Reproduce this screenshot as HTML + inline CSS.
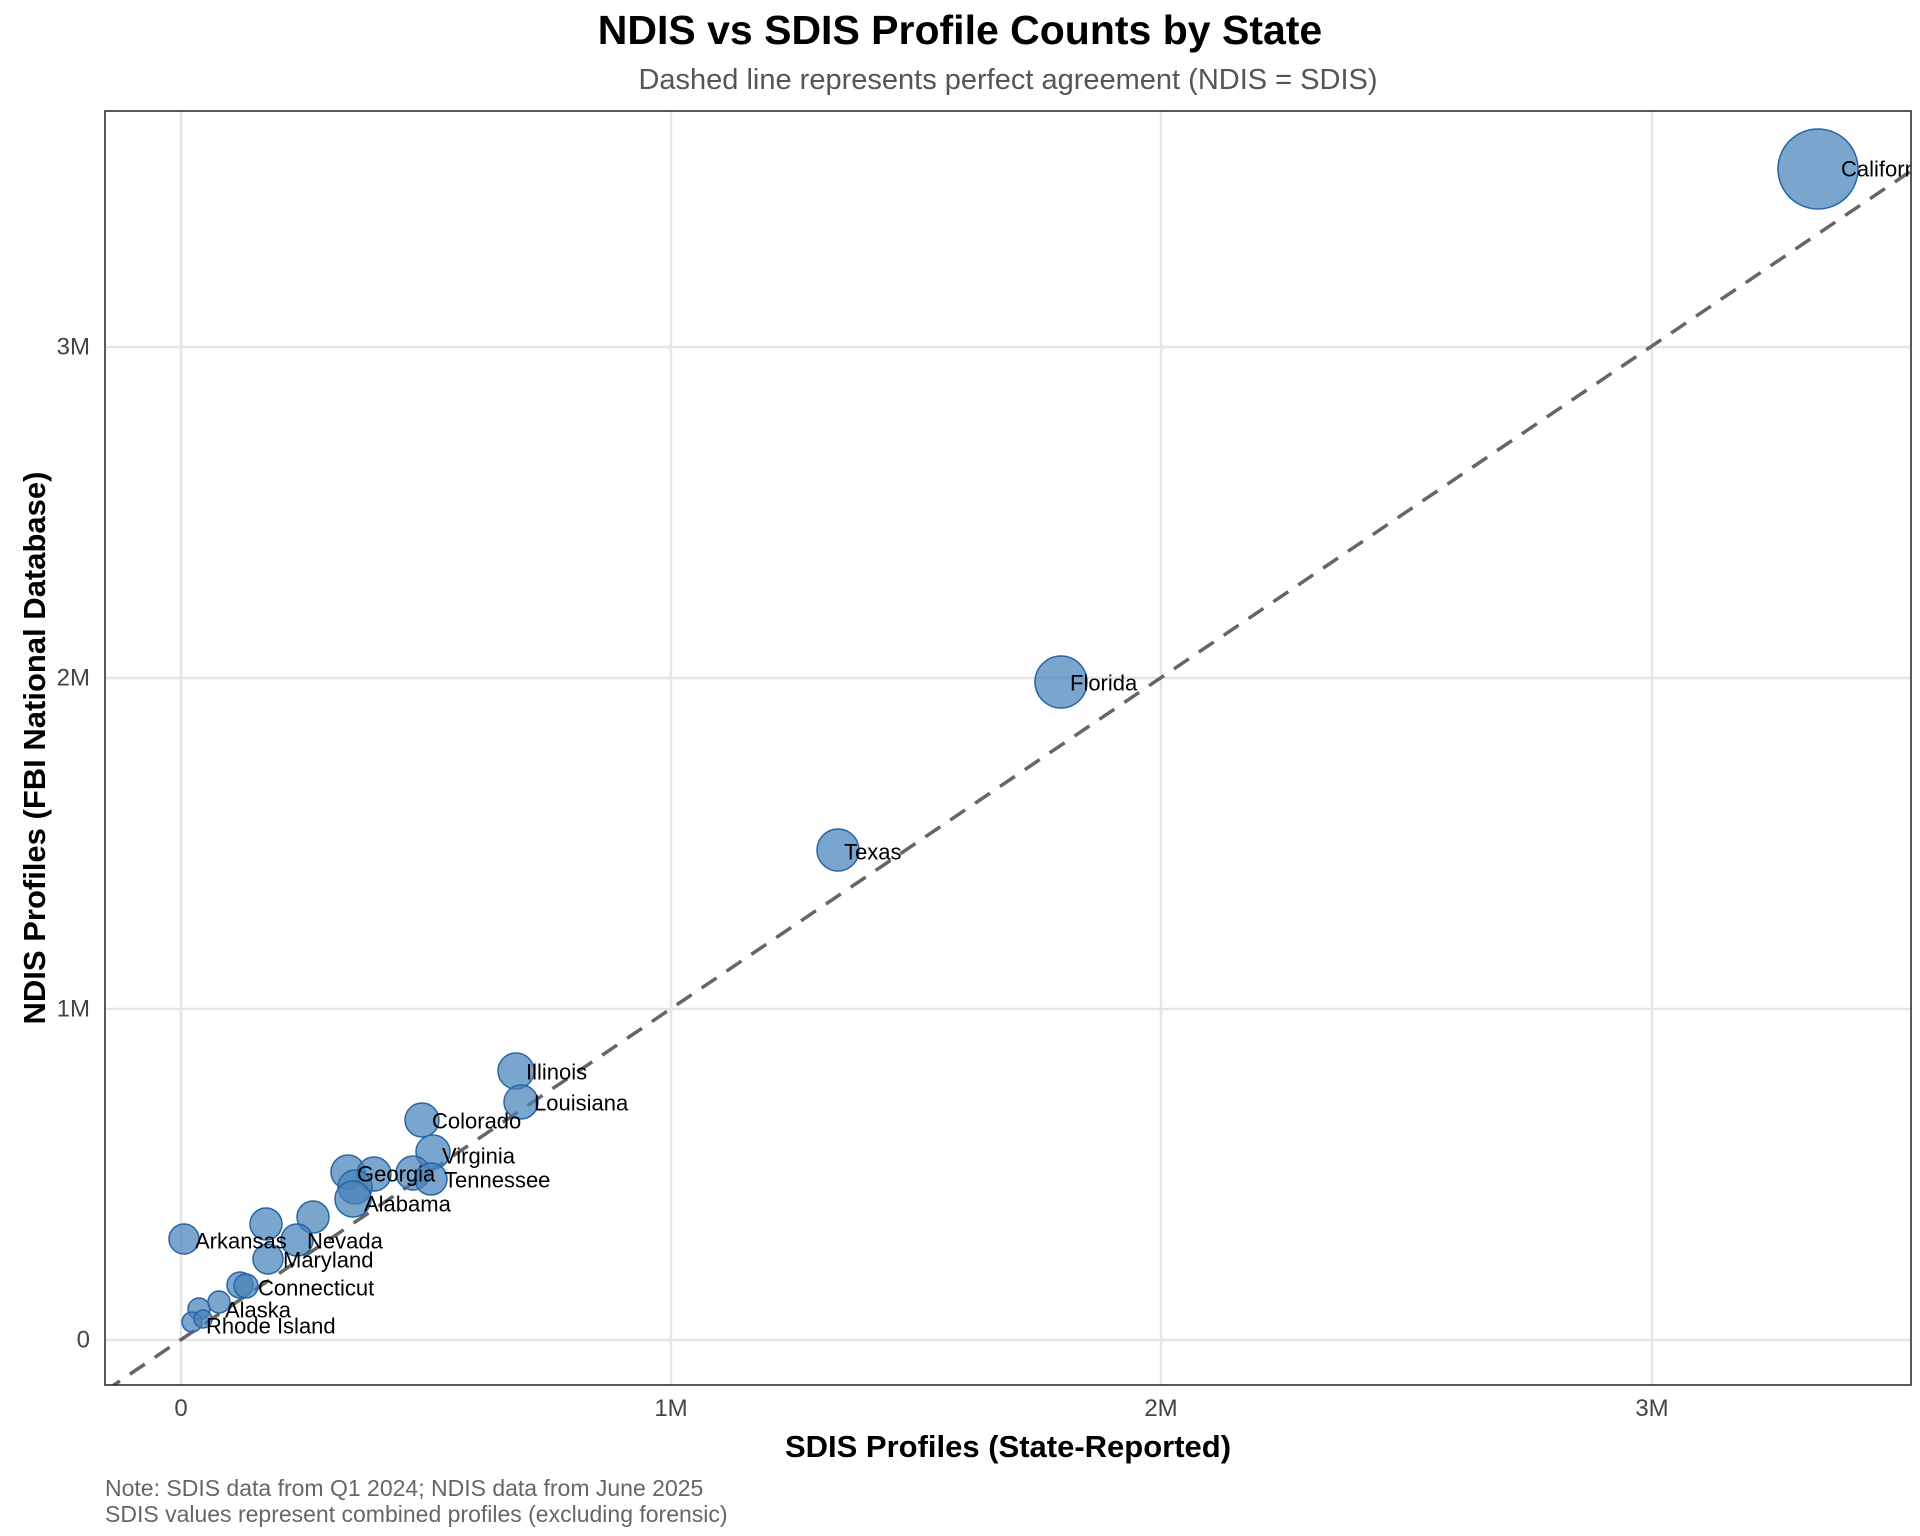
<!DOCTYPE html>
<html><head><style>body{margin:0;background:#fff}svg{display:block}text{font-family:"Liberation Sans",Arial,sans-serif}</style></head><body>
<svg width="1920" height="1536" viewBox="0 0 1920 1536" xmlns="http://www.w3.org/2000/svg">
<defs><clipPath id="c"><rect x="105" y="111" width="1806" height="1274"/></clipPath></defs>
<text x="960" y="44" text-anchor="middle" font-size="41" font-weight="bold">NDIS vs SDIS Profile Counts by State</text>
<text x="1008" y="89" text-anchor="middle" font-size="29" fill="#555">Dashed line represents perfect agreement (NDIS = SDIS)</text>
<g stroke="#e6e6e6" stroke-width="2.5">
<line x1="181" y1="111" x2="181" y2="1385"/><line x1="671" y1="111" x2="671" y2="1385"/><line x1="1161" y1="111" x2="1161" y2="1385"/><line x1="1652" y1="111" x2="1652" y2="1385"/>
<line x1="105" y1="1340" x2="1911" y2="1340"/><line x1="105" y1="1009" x2="1911" y2="1009"/><line x1="105" y1="678" x2="1911" y2="678"/><line x1="105" y1="347" x2="1911" y2="347"/>
</g>
<g clip-path="url(#c)">
<line x1="105" y1="1391" x2="1911" y2="171" stroke="#666" stroke-width="3.5" stroke-dasharray="18,12"/>
<g fill="rgb(70,130,185)" fill-opacity="0.72" stroke="rgb(40,100,165)" stroke-width="1.5">
<circle cx="1818" cy="169" r="40"/>
<circle cx="1061" cy="682" r="26"/>
<circle cx="838" cy="850" r="21"/>
<circle cx="516" cy="1071" r="18"/>
<circle cx="521" cy="1102" r="17"/>
<circle cx="422" cy="1120" r="17"/>
<circle cx="433" cy="1152" r="17"/>
<circle cx="413" cy="1173" r="17"/>
<circle cx="431" cy="1179" r="16"/>
<circle cx="348" cy="1172" r="17"/>
<circle cx="374" cy="1174" r="17"/>
<circle cx="355" cy="1187" r="17"/>
<circle cx="353" cy="1199" r="18"/>
<circle cx="266" cy="1224" r="16"/>
<circle cx="313" cy="1217" r="16"/>
<circle cx="184" cy="1239" r="15"/>
<circle cx="297" cy="1240" r="16"/>
<circle cx="268" cy="1259" r="15"/>
<circle cx="240" cy="1285" r="13"/>
<circle cx="246" cy="1286" r="12"/>
<circle cx="199" cy="1309" r="11"/>
<circle cx="219" cy="1302" r="11"/>
<circle cx="192" cy="1322" r="10"/>
<circle cx="203" cy="1319" r="9"/>
</g>
<g font-size="22" fill="#000" dominant-baseline="central">
<text x="1841" y="169">California</text>
<text x="1070" y="683">Florida</text>
<text x="844" y="852">Texas</text>
<text x="526" y="1072">Illinois</text>
<text x="534" y="1103">Louisiana</text>
<text x="432" y="1121">Colorado</text>
<text x="442" y="1156">Virginia</text>
<text x="357" y="1174">Georgia</text>
<text x="444" y="1180">Tennessee</text>
<text x="364" y="1204">Alabama</text>
<text x="195" y="1241">Arkansas</text>
<text x="307" y="1241">Nevada</text>
<text x="283" y="1260">Maryland</text>
<text x="258" y="1288">Connecticut</text>
<text x="225" y="1310">Alaska</text>
<text x="206" y="1326">Rhode Island</text>
</g>
</g>
<rect x="105" y="111" width="1806" height="1274" fill="none" stroke="#222" stroke-width="1.5"/>
<g font-size="24" fill="#444" text-anchor="middle">
<text x="181" y="1416">0</text><text x="671" y="1416">1M</text><text x="1161" y="1416">2M</text><text x="1652" y="1416">3M</text>
</g>
<g font-size="24" fill="#444" text-anchor="end" dominant-baseline="central">
<text x="90" y="1340">0</text><text x="90" y="1009">1M</text><text x="90" y="678">2M</text><text x="90" y="347">3M</text>
</g>
<text x="1008" y="1457" text-anchor="middle" font-size="31" font-weight="bold">SDIS Profiles (State-Reported)</text>
<text transform="translate(45,748) rotate(-90)" text-anchor="middle" font-size="31" font-weight="bold">NDIS Profiles (FBI National Database)</text>
<text x="105" y="1496" font-size="23" fill="#666">Note: SDIS data from Q1 2024; NDIS data from June 2025</text>
<text x="105" y="1522" font-size="23" fill="#666">SDIS values represent combined profiles (excluding forensic)</text>
</svg>
</body></html>
